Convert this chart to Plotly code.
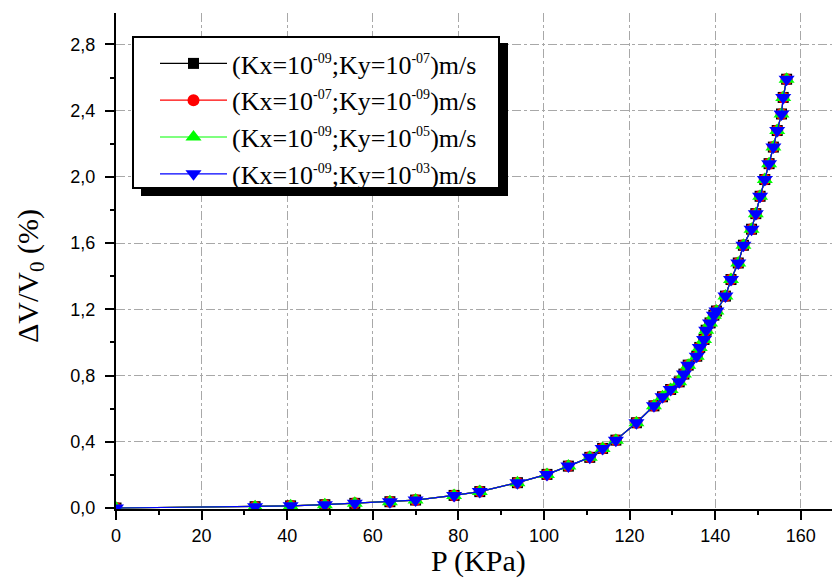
import plotly.graph_objects as go

# ---- data ----
P_kpa = [0, 32.5, 40.8, 48.8, 55.8, 64.0, 70.0, 79.0, 85.0, 93.8, 100.7, 105.7,
         110.7, 113.7, 116.8, 121.6, 125.7, 127.7, 129.6, 131.6, 132.7, 133.7,
         135.7, 136.4, 137.4, 137.9, 138.8, 139.7, 140.3, 142.4, 143.7, 145.4,
         146.6, 148.5, 149.5, 150.5, 151.6, 152.6, 153.6, 154.5, 155.5, 155.9, 156.7]
dV_black = [0, 0.008, 0.013, 0.020, 0.028, 0.038, 0.048, 0.076, 0.099, 0.153, 0.203, 0.253,
            0.306, 0.360, 0.410, 0.515, 0.617, 0.672, 0.716, 0.762, 0.809, 0.863,
            0.917, 0.970, 1.018, 1.074, 1.118, 1.165, 1.190, 1.280, 1.380, 1.480,
            1.587, 1.684, 1.778, 1.883, 1.984, 2.080, 2.180, 2.280, 2.380, 2.480, 2.590]
dV_red = list(dV_black)
dV_green = list(dV_black)
dV_blue = list(dV_black)

SUP = "<sup><span style='font-size:14px'>{}</span></sup>"
series_names = [
    "(Kx=10" + SUP.format("-09") + ";Ky=10" + SUP.format("-07") + ")m/s",
    "(Kx=10" + SUP.format("-07") + ";Ky=10" + SUP.format("-09") + ")m/s",
    "(Kx=10" + SUP.format("-09") + ";Ky=10" + SUP.format("-05") + ")m/s",
    "(Kx=10" + SUP.format("-09") + ";Ky=10" + SUP.format("-03") + ")m/s",
]
series_values = [dV_black, dV_red, dV_green, dV_blue]
colors = ["#000000", "#FF0000", "#00FF00", "#0000FF"]
symbols = ["square", "circle", "triangle-up", "triangle-down"]
sizes = [11, 12, 14, 14]

x_ticks = [0, 20, 40, 60, 80, 100, 120, 140, 160]
y_ticks = [0.0, 0.4, 0.8, 1.2, 1.6, 2.0, 2.4, 2.8]

W, H = 832, 581
L, R, T, B = 116, 0, 13, 72

fig = go.Figure()
for name, vals, c, s, sz in zip(series_names, series_values, colors, symbols, sizes):
    fig.add_trace(go.Scatter(
        x=P_kpa, y=vals, name=name, mode="lines+markers",
        line=dict(color=c, width=1.2),
        marker=dict(symbol=s, size=sz, color=c, line=dict(width=0)),
    ))

pw = W - L - R
ph = H - T - B
def px_x(p):
    return (p - L) / pw
def px_y(p):
    return (H - B - p) / ph

axis_common = dict(
    showline=True, linecolor="black", linewidth=2,
    ticks="outside", ticklen=9, tickwidth=2, tickcolor="black",
    showgrid=True, gridcolor="#a8a8a8", gridwidth=1, griddash="dashdot",
    zeroline=False, mirror=False, automargin=False,
    tickfont=dict(family="Liberation Sans, Arial", size=18, color="black"),
)

fig.update_xaxes(
    range=[0, 167.3], tickvals=x_ticks, ticklabelstandoff=0,
    minor=dict(dtick=10, tick0=0, ticks="outside", ticklen=4, tickwidth=2,
               tickcolor="black", showgrid=False),
    **axis_common,
)
fig.update_yaxes(
    range=[-0.006, 2.99], tickvals=y_ticks, tickformat=".1f", ticklabelstandoff=6,
    minor=dict(dtick=0.2, tick0=0, ticks="outside", ticklen=4, tickwidth=2,
               tickcolor="black", showgrid=False),
    **axis_common,
)

title_font = dict(family="Liberation Serif, Times New Roman", size=30, color="black")
fig.add_annotation(text="P (KPa)", xref="paper", yref="paper",
                   x=px_x(478), y=px_y(561), xanchor="center", yanchor="middle",
                   showarrow=False, font=title_font)
fig.add_annotation(text="ΔV/V<sub>0</sub> (%)", xref="paper", yref="paper",
                   x=px_x(30), y=px_y(276), xanchor="center", yanchor="middle",
                   textangle=-90, showarrow=False, font=title_font)

# legend frame and its shadow
shadow = [
    (499, 43, 508, 196),
    (141, 188, 508, 196),
]
for x0, y0, x1, y1 in shadow:
    fig.add_shape(type="rect", xref="paper", yref="paper",
                  x0=px_x(x0), x1=px_x(x1), y0=px_y(y1), y1=px_y(y0),
                  fillcolor="black", line=dict(width=0), layer="above")
fig.add_shape(type="rect", xref="paper", yref="paper",
              x0=px_x(133), x1=px_x(499), y0=px_y(188), y1=px_y(37),
              fillcolor="white", line=dict(color="black", width=2), layer="above")

fig.update_layout(
    width=W, height=H,
    margin=dict(l=L, r=R, t=T, b=B, autoexpand=False),
    paper_bgcolor="white", plot_bgcolor="white",
    separators=",.",
    showlegend=True,
    legend=dict(
        x=px_x(155), y=px_y(40), xanchor="left", yanchor="top",
        bgcolor="rgba(0,0,0,0)", borderwidth=0,
        font=dict(family="Liberation Serif, Times New Roman", size=26, color="black"),
        itemwidth=67, tracegroupgap=0,
    ),
)

fig.write_html("out.html", config={"displayModeBar": False},
               post_script="document.body.style.margin='0';")
